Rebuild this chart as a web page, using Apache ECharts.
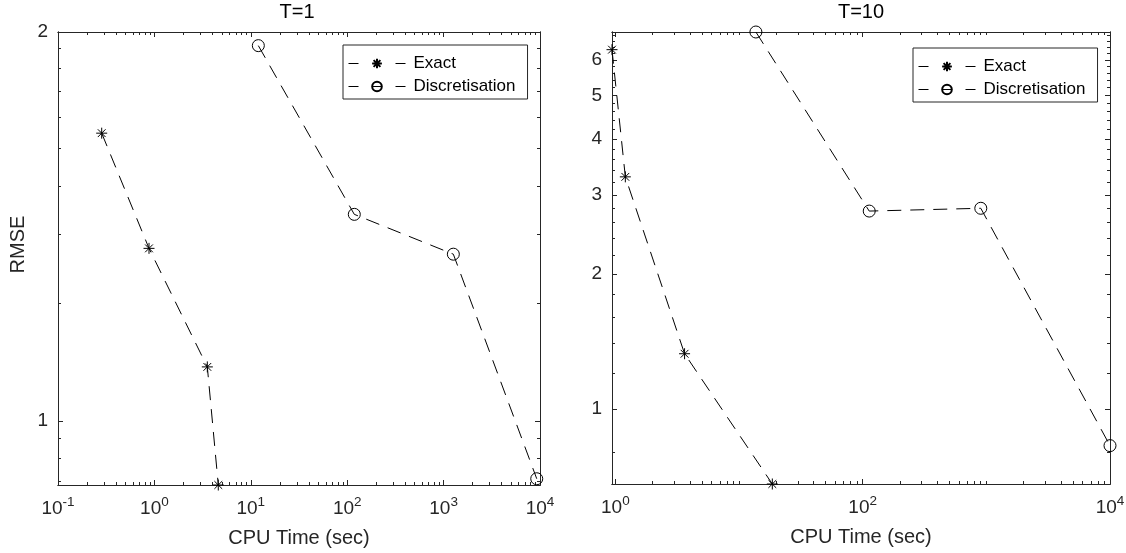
<!DOCTYPE html>
<html><head><meta charset="utf-8">
<script src="https://cdn.jsdelivr.net/npm/echarts@6/dist/echarts.min.js"></script>
<style>html,body{margin:0;padding:0;background:#fff}#c{width:1126px;height:553px}</style>
</head><body><div id="c"></div><script>
// ---- data ----
const seriesNames = ['Exact', 'Discretisation'];
const panelTitles = ['T=1', 'T=10'];
const xAxisTitle = 'CPU Time (sec)';
const yAxisTitle = 'RMSE';

const t1ExactX = [0.284, 0.879, 3.54, 4.60];
const t1ExactY = [1.670, 1.360, 1.101, 0.892];
const t1DiscX  = [11.97, 118.5, 1262, 9250];
const t1DiscY  = [1.952, 1.445, 1.346, 0.902];

const t10ExactX = [0.94, 1.205, 3.63, 18.6];
const t10ExactY = [6.32, 3.29, 1.327, 0.68];
const t10DiscX  = [13.7, 113, 902, 10000];
const t10DiscY  = [6.92, 2.76, 2.80, 0.828];

// axis ranges and ticks
const t1XRange = [0.1, 10000];
const t1YRange = [0.892, 2];
const t10XRange = [0.94, 10000];
const t10YRange = [0.68, 6.92];

const t1XMajor = [0.1, 1, 10, 100, 1000, 10000];
const t1XMinor = [0.2,0.3,0.4,0.5,0.6,0.7,0.8,0.9, 2,3,4,5,6,7,8,9, 20,30,40,50,60,70,80,90, 200,300,400,500,600,700,800,900, 2000,3000,4000,5000,6000,7000,8000,9000];
const t1YMajor = [1, 2];
const t1YMinor = [0.898, 0.936, 0.970, 1.233, 1.395, 1.520, 1.627, 1.719, 1.800, 1.875, 1.944];

const t10XMajor = [1, 100, 10000];
const t10XMinor = [2,3,4,5,6,7,8,9,10, 20,30,40,50,60,70,80,90, 200,300,400,500,600,700,800,900,1000, 2000,3000,4000,5000,6000,7000,8000,9000];
const t10YMajor = [1, 2, 3, 4, 5, 6];
const t10YMinor = [0.8, 1.2,1.4,1.6,1.8, 2.2,2.4,2.6,2.8, 3.2,3.4,3.6,3.8, 4.2,4.4,4.6,4.8, 5.2,5.4,5.6,5.8, 6.2,6.4,6.6,6.8];

// ---- styling ----
const FONT = '"Liberation Sans", Arial, Helvetica, sans-serif';
const AX = '#262626';
const STAR = 'path://M0,-10L0,10M-10,0L10,0M-7.07,-7.07L7.07,7.07M-7.07,7.07L7.07,-7.07';

function zip(a, b) { return a.map((v, i) => [v, b[i]]); }

function supFmt(v) {
  const e = Math.round(Math.log10(v));
  return '{b|10}{s|' + e + '}';
}

function makeAxes(dim, gridIndex, range, major, minor, withName) {
  const pMain = dim === 'x' ? 'bottom' : 'left';
  const pOther = dim === 'x' ? 'top' : 'right';
  const base = (pos, ticks, len, labels) => {
    const a = {
      type: 'log', logBase: 10, gridIndex: gridIndex, position: pos,
      min: range[0], max: range[1], silent: true,
      axisLine: { show: true, onZero: false, lineStyle: { color: AX, width: 1 } },
      axisTick: { show: true, inside: true, length: len, customValues: ticks, lineStyle: { color: AX, width: 1 } },
      axisLabel: { show: false },
      splitLine: { show: false },
      minorTick: { show: false },
      minorSplitLine: { show: false }
    };
    if (labels) {
      if (dim === 'x') {
        a.axisLabel = {
          show: true, customValues: major, margin: 10, color: AX, fontFamily: FONT,
          formatter: supFmt,
          rich: {
            b: { fontSize: 19, lineHeight: 27, fontFamily: FONT, color: AX },
            s: { fontSize: 13.5, lineHeight: 14, verticalAlign: 'top', fontFamily: FONT, color: AX }
          }
        };
        a.name = xAxisTitle; a.nameLocation = 'middle'; a.nameGap = 43;
        a.nameTextStyle = { fontSize: 20, color: AX, fontFamily: FONT };
      } else {
        a.axisLabel = {
          show: true, customValues: major, margin: 10, color: AX, fontFamily: FONT, fontSize: 19,
          formatter: v => String(Math.round(v * 100) / 100)
        };
        if (withName) {
          a.name = yAxisTitle; a.nameLocation = 'middle'; a.nameGap = 30;
          a.nameTextStyle = { fontSize: 20, color: AX, fontFamily: FONT, padding: [0, 0, 0, 28] };
        }
      }
    }
    return a;
  };
  return [base(pMain, major, 5, true), base(pMain, minor, 3, false),
          base(pOther, major, 5, false), base(pOther, minor, 3, false)];
}

const xAxes = [].concat(
  makeAxes('x', 0, t1XRange, t1XMajor, t1XMinor),
  makeAxes('x', 1, t10XRange, t10XMajor, t10XMinor)
);
const yAxes = [].concat(
  makeAxes('y', 0, t1YRange, t1YMajor, t1YMinor, true),
  makeAxes('y', 1, t10YRange, t10YMajor, t10YMinor, false)
);

const dashLine = [14, 9];
function exactSeries(xi, yi, data) {
  return {
    type: 'line', name: seriesNames[0], xAxisIndex: xi, yAxisIndex: yi, data: data,
    symbol: STAR, symbolSize: 11, clip: false, animation: false, silent: true,
    lineStyle: { color: '#000', width: 1, type: dashLine },
    itemStyle: { color: '#000', borderColor: '#000', borderWidth: 1 },
    emphasis: { disabled: true }
  };
}
function discSeries(xi, yi, data) {
  return {
    type: 'line', name: seriesNames[1], xAxisIndex: xi, yAxisIndex: yi, data: data,
    symbol: 'circle', symbolSize: 12, clip: false, animation: false, silent: true,
    lineStyle: { color: '#000', width: 1, type: dashLine },
    itemStyle: { color: 'rgba(0,0,0,0)', borderColor: '#000', borderWidth: 1 },
    emphasis: { disabled: true }
  };
}

function legendAt(left, top) {
  return {
    left: left, top: top, orient: 'vertical', data: seriesNames,
    itemWidth: 57, itemHeight: 12, itemGap: 6, padding: [10, 12, 4, 5],
    backgroundColor: '#fff', borderColor: AX, borderWidth: 1, borderRadius: 0,
    selectedMode: false,
    textStyle: { fontSize: 17, color: '#000', fontFamily: FONT, padding: [0, 0, 0, 3] },
    lineStyle: { type: [10, 14, 9, 14, 10], width: 1, color: '#000' }
  };
}

const chart = echarts.init(document.getElementById('c'), null, { renderer: 'canvas' });
chart.setOption({
  animation: false,
  backgroundColor: '#fff',
  title: [
    { text: panelTitles[0], left: 297, top: 2, textAlign: 'center', padding: 0,
      textStyle: { fontSize: 20, fontWeight: 'normal', color: '#000', fontFamily: FONT } },
    { text: panelTitles[1], left: 861, top: 2, textAlign: 'center', padding: 0,
      textStyle: { fontSize: 20, fontWeight: 'normal', color: '#000', fontFamily: FONT } }
  ],
  grid: [
    { left: 58, top: 32, width: 482, height: 453, containLabel: false, outerBoundsMode: 'none' },
    { left: 612, top: 32, width: 498, height: 452, containLabel: false, outerBoundsMode: 'none' }
  ],
  legend: [legendAt(343, 45), legendAt(913, 48)],
  xAxis: xAxes,
  yAxis: yAxes,
  series: [
    exactSeries(0, 0, zip(t1ExactX, t1ExactY)),
    discSeries(0, 0, zip(t1DiscX, t1DiscY)),
    exactSeries(4, 4, zip(t10ExactX, t10ExactY)),
    discSeries(4, 4, zip(t10DiscX, t10DiscY))
  ]
});
</script></body></html>
